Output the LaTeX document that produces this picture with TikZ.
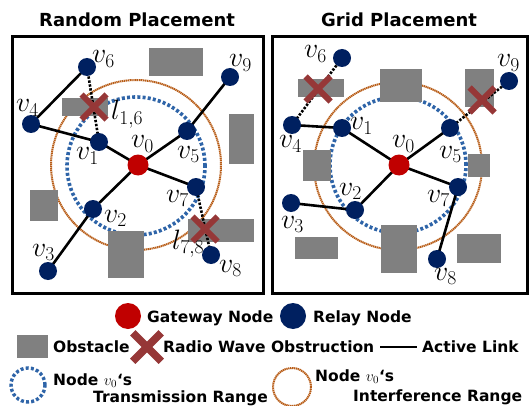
\RequirePackage{fix-cm}
\documentclass[tikz,border=0pt]{standalone}
\usepackage{fontspec}
\setmainfont{DejaVu Sans}
\usetikzlibrary{shapes.misc}
\definecolor{navy}{RGB}{0,32,96}
\definecolor{gwred}{RGB}{192,0,0}
\definecolor{obgray}{RGB}{128,128,128}
\definecolor{xred}{RGB}{150,55,55}
\definecolor{tblue}{RGB}{46,100,168}
\definecolor{iorange}{RGB}{184,92,22}
\tikzset{
  relay/.style={circle, fill=navy, minimum size=18pt, inner sep=0pt},
  gw/.style={circle, fill=gwred, minimum size=21pt, inner sep=0pt},
  link/.style={line width=2.6pt},
  blocked/.style={line width=2.6pt, dash pattern=on 2.4pt off 1.6pt},
  obst/.style={fill=obgray},
  xmark/.style={cross out, draw=xred, line width=6pt, minimum size=19pt, inner sep=0pt},
  trange/.style={draw=tblue, line width=3.6pt, dash pattern=on 3pt off 2.2pt},
  irange/.style={draw=iorange, line width=2pt, dash pattern=on 1.3pt off 0.6pt},
  frame/.style={draw=black, line width=3pt},
  lbl/.style={font=\fontsize{28}{28}\selectfont, inner sep=0pt, anchor=base west},
  ttl/.style={font=\fontsize{18}{18}\selectfont\bfseries, inner sep=0pt, anchor=base west},
  leg/.style={font=\fontsize{15.5}{15.5}\selectfont\bfseries, inner sep=0pt, anchor=base west},
}
\begin{document}
\begin{tikzpicture}[x=1pt, y=-1pt]
\useasboundingbox[fill=white] (0,0) rectangle (529,406);
% titles
\node[ttl] (t1) at (39,27) {Random Placement};
\node[ttl] (t2) at (321,27) {Grid Placement};
% frames
\draw[frame] (12,37) rectangle (263,293);
\draw[frame] (272,37) rectangle (527,293);

% ---------- left panel ----------
\draw[irange] (136,165) circle [radius=85pt];
\draw[trange] (136,166) circle [radius=69pt];
\fill[obst] (149,48) rectangle (203,76);
\fill[obst] (62,98) rectangle (108,116);
\fill[obst] (229,114) rectangle (254,164);
\fill[obst] (30,190) rectangle (58,221);
\fill[obst] (108,231) rectangle (144,278);
\fill[obst] (188,219) rectangle (254,242);

\coordinate (v0) at (138,165);
\coordinate (v1) at (99,142);
\coordinate (v2) at (93,209);
\coordinate (v3) at (48,271);
\coordinate (v4) at (31,124);
\coordinate (v5) at (187,131);
\coordinate (v6) at (87,67);
\coordinate (v7) at (196,187);
\coordinate (v8) at (211,255);
\coordinate (v9) at (230,77);
\draw[link] (v6) -- (v4) -- (v1) -- (v0) -- (v5) -- (v9);
\draw[link] (v0) -- (v7);
\draw[link] (v0) -- (v2) -- (v3);
\draw[blocked] (v1) -- (v6);
\draw[blocked] (v7) -- (v8);
\node[xmark] (x16) at (94,107) {};
\node[xmark] (x78) at (205,229) {};
\node[gw] (n0) at (v0) {};
\foreach \i in {1,...,9}{\node[relay] (n\i) at (v\i) {};}

\node[lbl] (l6) at (92,63) {$v_6$};
\node[lbl] (l9) at (229,67) {$v_9$};
\node[lbl] (l4) at (16,112) {$v_4$};
\node[lbl] (l1) at (76,160) {$v_1$};
\node[lbl] (l0) at (131,148) {$v_0$};
\node[lbl] (l5) at (177,158) {$v_5$};
\node[lbl] (l7) at (166,202) {$v_7$};
\node[lbl] (l2) at (104,222) {$v_2$};
\node[lbl] (l3) at (32,256) {$v_3$};
\node[lbl] (l8) at (219,272) {$v_8$};
\node[lbl] (ll16) at (111,120) {$l_{1,6}$};
\node[lbl] (ll78) at (172,249) {$l_{7,8}$};

% ---------- right panel ----------
\draw[irange] (398,166) circle [radius=84pt];
\draw[trange] (398,165) circle [radius=68pt];
\fill[obst] (298,79) rectangle (344,97);
\fill[obst] (380,69) rectangle (422,102);
\fill[obst] (465,69) rectangle (494,107);
\fill[obst] (303,150) rectangle (331,181);
\fill[obst] (468,154) rectangle (490,177);
\fill[obst] (295,237) rectangle (338,259);
\fill[obst] (381,225) rectangle (417,273);
\fill[obst] (457,234) rectangle (501,263);

\coordinate (w0) at (399,165);
\coordinate (w1) at (342,128);
\coordinate (w2) at (355,210);
\coordinate (w3) at (291,203);
\coordinate (w4) at (292,125);
\coordinate (w5) at (450,128);
\coordinate (w6) at (342,58);
\coordinate (w7) at (458,187);
\coordinate (w8) at (437,259);
\coordinate (w9) at (509,81);
\draw[link] (w4) -- (w1) -- (w0) -- (w5);
\draw[link] (w3) -- (w2) -- (w0) -- (w7) -- (w8);
\draw[blocked] (w4) -- (w6);
\draw[blocked] (w5) -- (w9);
\node[xmark] (x46) at (318,89) {};
\node[xmark] (x59) at (482,100) {};
\node[gw] (m0) at (w0) {};
\foreach \i in {1,...,9}{\node[relay] (m\i) at (w\i) {};}

\node[lbl] (k6) at (304,58) {$v_6$};
\node[lbl] (k9) at (497,67) {$v_9$};
\node[lbl] (k1) at (350,130) {$v_1$};
\node[lbl] (k0) at (392,148) {$v_0$};
\node[lbl] (k5) at (439,158) {$v_5$};
\node[lbl] (k4) at (279,148) {$v_4$};
\node[lbl] (k2) at (339,195) {$v_2$};
\node[lbl] (k7) at (427,202) {$v_7$};
\node[lbl] (k3) at (281,228) {$v_3$};
\node[lbl] (k8) at (434,280) {$v_8$};

% ---------- legend ----------
\node[circle, fill=gwred, minimum size=26pt, inner sep=0pt] (lg0) at (128,316) {};
\node[leg] (lgt0) at (147,322) {Gateway Node};
\node[circle, fill=navy, minimum size=26pt, inner sep=0pt] (lg1) at (293,316) {};
\node[leg] (lgt1) at (313,322) {Relay Node};
\fill[obst] (17,335) rectangle (48,358);
\node[leg] (lgt2) at (53,352) {Obstacle};
\node[xmark, minimum size=21pt, line width=7.5pt] (lgx) at (147,347) {};
\node[leg] (lgt3) at (163,352) {Radio Wave Obstruction};
\coordinate (la) at (380,347);
\coordinate (lb) at (417,347);
\draw[link] (la) -- (lb);
\node[leg] (lgt4) at (422,352) {Active Link};
\draw[trange, line width=3.4pt] (28,385) circle [radius=17pt];
\node[leg] (lgt5) at (53,385) {Node $\fontsize{19}{19}\selectfont v_0$‘s};
\node[leg] (lgt6) at (93,402) {Transmission Range};
\draw[irange] (292,387) circle [radius=19pt];
\node[leg] (lgt7) at (315,381) {Node $\fontsize{19}{19}\selectfont v_0$‘s};
\node[leg] (lgt8) at (353,401) {Interference Range};
\end{tikzpicture}
\end{document}
